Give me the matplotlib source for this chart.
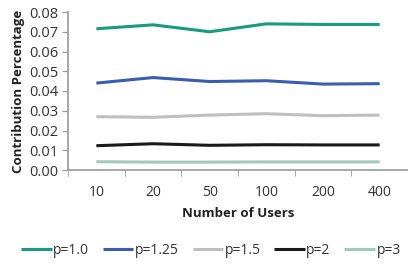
import matplotlib
matplotlib.use("Agg")
import matplotlib.pyplot as plt
import numpy as np

plt.rcParams['font.family'] = ['Open Sans', 'DejaVu Sans']

users = ["10", "20", "50", "100", "200", "400"]
p10 = [0.0715, 0.0735, 0.0700, 0.0740, 0.0737, 0.0737]
p125 = [0.0440, 0.0468, 0.0448, 0.0452, 0.0435, 0.0437]
p15 = [0.0270, 0.0267, 0.0278, 0.0285, 0.0275, 0.0278]
p2 = [0.0123, 0.0133, 0.0125, 0.0128, 0.0127, 0.0127]
p3 = [0.0042, 0.0040, 0.0040, 0.0041, 0.0041, 0.0041]
labels = ["p=1.0", "p=1.25", "p=1.5", "p=2", "p=3"]
colors = ["#1a9a7e", "#3a5db0", "#bfbfbf", "#1a1a1a", "#a3c9bf"]

fig = plt.figure(figsize=(4.08, 2.65), dpi=100)
ax = fig.add_axes([68/408, 1-170/265, 1-68/408, (170-12)/265])
x = np.arange(len(users))
for s, lab, c in zip([p10, p125, p15, p2, p3], labels, colors):
    ax.plot(x, s, color=c, lw=2.2, label=lab, solid_capstyle='butt')

ax.set_xlim(-0.5, len(users)-0.5)
ax.set_ylim(0, 0.08)
ax.set_yticks(np.arange(0, 0.081, 0.01))
ax.set_yticklabels([f"{v:.2f}" for v in np.arange(0, 0.081, 0.01)], fontsize=10.5, color="#333333")
ax.set_xticks(x)
ax.set_xticklabels(users, fontsize=10, color="#333333")
ax.set_xticks(np.arange(-0.5, len(users), 1), minor=True)
ax.tick_params(axis='x', which='major', length=0, pad=11)
ax.tick_params(axis='x', which='minor', length=4, color="#999999", direction='out')
ax.tick_params(axis='y', length=4, color="#999999", direction='out', pad=3)
for sp in ['top', 'right']:
    ax.spines[sp].set_visible(False)
for sp in ['left', 'bottom']:
    ax.spines[sp].set_color("#999999")
    ax.spines[sp].set_linewidth(1.2)
ax.set_ylabel("Contribution Percentage", fontsize=9.5, fontweight='bold', color="#222222", labelpad=3)
ax.set_xlabel("Number of Users", fontsize=9.5, fontweight='bold', color="#222222", labelpad=5)
ax.legend(loc='upper center', bbox_to_anchor=(0.42, -0.38), ncol=5, frameon=False,
          fontsize=10, handlelength=2.2, handletextpad=0.1, columnspacing=1.0,
          labelcolor="#333333")
fig.savefig("out.png", dpi=100)
